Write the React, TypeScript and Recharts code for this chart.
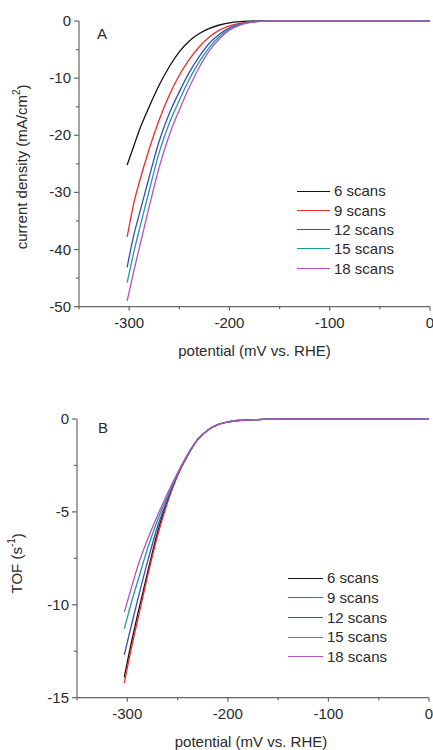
import React from "react";
import { LineChart, Line, XAxis, YAxis, Legend } from "recharts";

// ---------- Data ----------
const seriesNames = ["6 scans", "9 scans", "12 scans", "15 scans", "18 scans"];
const seriesColors = ["#111111", "#ee2b2b", "#3a4db5", "#1f9c98", "#b452c4"];

// Panel A: current density (mA/cm2) vs potential (mV vs. RHE)
const potentialA = [-302, -295, -290, -280, -270, -260, -250, -240, -230, -220, -210, -200, -190, -180, -170, -160, -150, -100, -50, 0];
const a6 = [-25.2, -21.7, -19.2, -15.0, -11.2, -8.0, -5.4, -3.5, -2.2, -1.3, -0.7, -0.32, -0.12, -0.03, 0, 0, 0, 0, 0, 0];
const a9 = [-37.8, -31.6, -28.3, -22.4, -17.3, -13.0, -9.5, -6.7, -4.5, -2.8, -1.6, -0.85, -0.4, -0.15, -0.05, 0, 0, 0, 0, 0];
const a12 = [-43.1, -37.2, -33.9, -27.3, -21.0, -16.2, -12.4, -9.0, -6.2, -3.9, -2.3, -1.2, -0.55, -0.22, -0.06, 0, 0, 0, 0, 0];
const a15 = [-45.8, -40.2, -36.6, -29.7, -23.0, -17.9, -13.9, -10.2, -7.1, -4.6, -2.7, -1.4, -0.65, -0.25, -0.07, 0, 0, 0, 0, 0];
const a18 = [-49.0, -43.5, -39.8, -32.5, -25.6, -20.0, -15.6, -11.6, -8.1, -5.2, -3.1, -1.6, -0.75, -0.3, -0.08, 0, 0, 0, 0, 0];

// Panel B: TOF (s^-1) vs potential (mV vs. RHE)
const potentialB = [-303, -295, -290, -280, -270, -260, -250, -240, -230, -220, -210, -200, -190, -180, -170, -150, -100, -50, 0];
const b6 = [-13.9, -11.8, -10.6, -8.3, -6.1, -4.4, -3.0, -1.95, -1.1, -0.6, -0.3, -0.15, -0.08, -0.05, -0.03, 0, 0, 0, 0];
const b9 = [-14.2, -12.1, -10.9, -8.5, -6.3, -4.5, -3.05, -1.97, -1.12, -0.6, -0.3, -0.15, -0.08, -0.05, -0.03, 0, 0, 0, 0];
const b12 = [-12.7, -10.9, -9.8, -7.7, -5.8, -4.3, -3.0, -1.95, -1.1, -0.6, -0.3, -0.15, -0.08, -0.05, -0.03, 0, 0, 0, 0];
const b15 = [-11.3, -9.7, -8.8, -7.0, -5.45, -4.15, -2.95, -1.92, -1.1, -0.6, -0.3, -0.15, -0.08, -0.05, -0.03, 0, 0, 0, 0];
const b18 = [-10.4, -8.9, -8.0, -6.5, -5.2, -4.0, -2.9, -1.9, -1.1, -0.6, -0.3, -0.15, -0.08, -0.05, -0.03, 0, 0, 0, 0];

const xTicks = [-350, -300, -250, -200, -150, -100, -50, 0];
const xLabeled = [-300, -200, -100, 0];
const yTicksA = [-50, -45, -40, -35, -30, -25, -20, -15, -10, -5, 0];
const yLabeledA = [-50, -40, -30, -20, -10, 0];
const yTicksB = [-15, -12.5, -10, -7.5, -5, -2.5, 0];
const yLabeledB = [-15, -10, -5, 0];

const keys = ["s6", "s9", "s12", "s15", "s18"];
const dataA = potentialA.map((p, i) => ({ p, s6: a6[i], s9: a9[i], s12: a12[i], s15: a15[i], s18: a18[i] }));
const dataB = potentialB.map((p, i) => ({ p, s6: b6[i], s9: b9[i], s12: b12[i], s15: b15[i], s18: b18[i] }));

// ---------- Styles ----------
const FONT = "'Liberation Sans', Arial, sans-serif";
const AXIS = "#666666";
const TEXT = "#2a2a2a";
const FS = 15;

const makeXTick = (labeled: number[]) => (props: any) => {
  const { x, y, payload } = props;
  const major = labeled.includes(payload.value);
  return (
    <g>
      <line x1={x} x2={x} y1={y} y2={y + (major ? 4 : 2.5)} stroke={AXIS} strokeWidth={1.2} />
      {major && (
        <text x={x} y={y + 21} textAnchor="middle" fontSize={FS} fontFamily={FONT} fill={TEXT}>
          {payload.value}
        </text>
      )}
    </g>
  );
};

const makeYTick = (labeled: number[]) => (props: any) => {
  const { x, y, payload } = props;
  const major = labeled.includes(payload.value);
  return (
    <g>
      <line x1={x} x2={x - (major ? 5 : 3)} y1={y} y2={y} stroke={AXIS} strokeWidth={1.2} />
      {major && (
        <text x={x - 8} y={y + 5} textAnchor="end" fontSize={FS} fontFamily={FONT} fill={TEXT}>
          {payload.value}
        </text>
      )}
    </g>
  );
};

const makeLegend = (lineLen: number, rowH: number) => () => (
  <div style={{ fontFamily: FONT, fontSize: FS, color: TEXT }}>
    {seriesNames.map((n, i) => (
      <div key={n} style={{ display: "flex", alignItems: "center", height: rowH, whiteSpace: "nowrap" }}>
        <span style={{ display: "inline-block", width: lineLen, borderTop: `1.6px solid ${seriesColors[i]}` }} />
        <span style={{ marginLeft: 4, lineHeight: `${rowH}px` }}>{n}</span>
      </div>
    ))}
  </div>
);

const xLabel = (dy: number, dx: number) => (props: any) => {
  const vb = props.viewBox;
  return (
    <text x={vb.x + vb.width / 2 + dx} y={vb.y + dy} textAnchor="middle" dominantBaseline="central" fontSize={FS} fontFamily={FONT} fill={TEXT}>
      potential (mV vs. RHE)
    </text>
  );
};

const yLabelA = (props: any) => {
  const vb = props.viewBox;
  const cx = 22;
  const cy = vb.y + vb.height / 2 + 3;
  return (
    <text x={cx} y={cy} transform={`rotate(-90 ${cx} ${cy})`} textAnchor="middle" dominantBaseline="central" fontSize={FS} fontFamily={FONT} fill={TEXT}>
      current density (mA/cm<tspan dy={-6} fontSize={10}>2</tspan><tspan dy={6}>)</tspan>
    </text>
  );
};

const yLabelB = (props: any) => {
  const vb = props.viewBox;
  const cx = 17;
  const cy = vb.y + vb.height / 2 + 5;
  return (
    <text x={cx} y={cy} transform={`rotate(-90 ${cx} ${cy})`} textAnchor="middle" dominantBaseline="central" fontSize={FS} fontFamily={FONT} fill={TEXT}>
      TOF (s<tspan dy={-6} fontSize={10}>-1</tspan><tspan dy={6}>)</tspan>
    </text>
  );
};

export default function App() {
  return (
    <div style={{ position: "absolute", left: 0, top: 0, width: 433, height: 750, background: "#fff" }}>
      <LineChart width={433} height={375} data={dataA} margin={{ top: 21, right: 3, bottom: 0, left: 0 }}>
        <XAxis
          dataKey="p"
          type="number"
          domain={[-350, 0]}
          ticks={xTicks}
          interval={0}
          height={68.3}
          stroke={AXIS}
          strokeWidth={1.2}
          tickLine={false}
          tickSize={0}
          tickMargin={0}
          tick={makeXTick(xLabeled)}
          label={{ content: xLabel(43.3, 0) }}
        />
        <YAxis
          type="number"
          domain={[-50, 0]}
          ticks={yTicksA}
          interval={0}
          width={79}
          stroke={AXIS}
          strokeWidth={1.2}
          tickLine={false}
          tickSize={0}
          tickMargin={0}
          tick={makeYTick(yLabeledA)}
          label={{ content: yLabelA }}
        />
        {keys.map((k, i) => (
          <Line key={k} dataKey={k} name={seriesNames[i]} type="monotone" stroke={seriesColors[i]} strokeWidth={1.3} dot={false} isAnimationActive={false} />
        ))}
        <text x={97} y={38.5} fontSize={FS} fontFamily={FONT} fill={TEXT}>A</text>
        <Legend
          layout="vertical"
          align="center"
          verticalAlign="middle"
          content={makeLegend(33, 19.3)}
          wrapperStyle={{ left: 297, top: 181.4, width: "auto" }}
        />
      </LineChart>
      <LineChart width={433} height={375} data={dataB} margin={{ top: 44, right: 4, bottom: 0, left: 0 }}>
        <XAxis
          dataKey="p"
          type="number"
          domain={[-350, 0]}
          ticks={xTicks}
          interval={0}
          height={52.3}
          stroke={AXIS}
          strokeWidth={1.2}
          tickLine={false}
          tickSize={0}
          tickMargin={0}
          tick={makeXTick(xLabeled)}
          label={{ content: xLabel(44, -2) }}
        />
        <YAxis
          type="number"
          domain={[-15, 0]}
          ticks={yTicksB}
          interval={0}
          width={77}
          stroke={AXIS}
          strokeWidth={1.2}
          tickLine={false}
          tickSize={0}
          tickMargin={0}
          tick={makeYTick(yLabeledB)}
          label={{ content: yLabelB }}
        />
        {keys.map((k, i) => (
          <Line key={k} dataKey={k} name={seriesNames[i]} type="monotone" stroke={seriesColors[i]} strokeWidth={1.3} dot={false} isAnimationActive={false} />
        ))}
        <text x={98} y={58} fontSize={FS} fontFamily={FONT} fill={TEXT}>B</text>
        <Legend
          layout="vertical"
          align="center"
          verticalAlign="middle"
          content={makeLegend(35, 19.7)}
          wrapperStyle={{ left: 288, top: 193.2, width: "auto" }}
        />
      </LineChart>
    </div>
  );
}
